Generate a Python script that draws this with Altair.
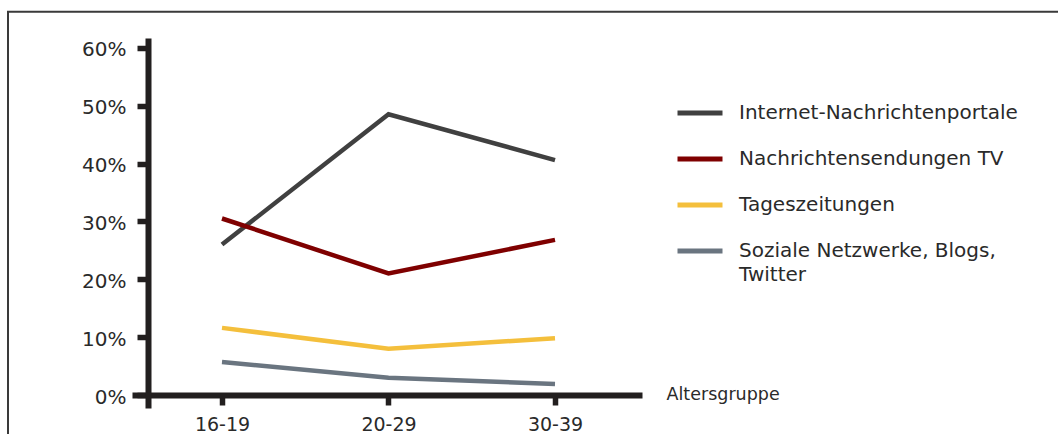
import json

import altair as alt
import pandas as pd

# Age groups on the x axis
age_groups = ["16-19", "20-29", "30-39"]

# Media types (legend order) and their line colours
series_names = [
    "Internet-Nachrichtenportale",
    "Nachrichtensendungen TV",
    "Tageszeitungen",
    "Soziale Netzwerke, Blogs, Twitter",
]
series_colors = ["#404040", "#7f0000", "#f4bf3c", "#6a7580"]

# Share of respondents per age group, in percent
internet_pct = [26.0, 48.5, 40.6]
tv_pct = [30.5, 21.0, 26.8]
zeitung_pct = [11.6, 8.0, 9.8]
sozial_pct = [5.7, 3.0, 1.9]

y_ticks = [0.0, 0.1, 0.2, 0.3, 0.4, 0.5, 0.6]

rows = []
for name, values in zip(series_names, [internet_pct, tv_pct, zeitung_pct, sozial_pct]):
    for i, (grp, v) in enumerate(zip(age_groups, values)):
        rows.append({"Medium": name, "Altersgruppe": grp, "pos": i, "Anteil": v / 100})
df = pd.DataFrame(rows)

# Layout (pixels)
PLOT_LEFT, PLOT_TOP = 132, 38
PLOT_W, PLOT_H = 510, 370
TOTAL_W, TOTAL_H = 1058, 434

TEXT = "#2a2a2a"
AXIS = "#221f1f"
FONT = "DejaVu Sans"

x_labels = json.dumps(age_groups)
legend_label = (
    "datum.label == 'Soziale Netzwerke, Blogs, Twitter' ? "
    "['Soziale Netzwerke, Blogs,', 'Twitter'] : datum.label"
)

lines = (
    alt.Chart(df)
    .mark_line(strokeWidth=4.5, strokeJoin="miter")
    .encode(
        x=alt.X(
            "pos:Q",
            scale=alt.Scale(domain=[-0.5405, 2.5225], nice=False, zero=False),
            axis=alt.Axis(
                values=[0, 1, 2],
                labelExpr=f"{x_labels}[datum.value]",
                offset=-13,
                grid=False,
                domainColor=AXIS,
                domainWidth=6,
                tickColor=AXIS,
                tickWidth=5.5,
                tickSize=10,
                labelColor=TEXT,
                labelFont=FONT,
                labelFontSize=19,
                labelPadding=10,
                labelBaseline="top",
                title="Altersgruppe",
                titleFont=FONT,
                titleFontSize=17.5,
                titleFontWeight="normal",
                titleColor=TEXT,
                titleAlign="left",
                titleBaseline="alphabetic",
                titleAnchor="start",
                titleX=534,
                titleY=4,
            ),
        ),
        y=alt.Y(
            "Anteil:Q",
            scale=alt.Scale(domain=[-0.02246, 0.6169], nice=False, zero=False),
            axis=alt.Axis(
                values=y_ticks,
                format=".0%",
                offset=-16,
                grid=False,
                domainColor=AXIS,
                domainWidth=6,
                tickColor=AXIS,
                tickWidth=5.5,
                tickSize=11,
                labelColor=TEXT,
                labelFont=FONT,
                labelFontSize=20,
                labelPadding=11,
                labelOffset=2,
                title=None,
            ),
        ),
        color=alt.Color(
            "Medium:N",
            sort=series_names,
            scale=alt.Scale(domain=series_names, range=series_colors),
            legend=alt.Legend(
                title=None,
                orient="none",
                legendX=543,
                legendY=50,
                symbolType="stroke",
                symbolSize=2025,
                symbolStrokeWidth=5,
                labelFont=FONT,
                labelFontSize=20,
                labelColor=TEXT,
                labelOffset=14,
                labelLimit=0,
                labelExpr=legend_label,
                rowPadding=11,
                padding=0,
            ),
        ),
        order="pos:Q",
    )
)

# Outer frame around the figure
frame = (
    alt.Chart(alt.Data(values=[{}]))
    .mark_rect(fill="white", fillOpacity=0, stroke="#3a3a3a", strokeWidth=2)
    .encode(
        x=alt.value(8 - PLOT_LEFT),
        y=alt.value(11.7 - PLOT_TOP),
        x2=alt.value(1200),
        y2=alt.value(600),
    )
)

chart = (
    alt.layer(frame, lines)
    .properties(
        width=PLOT_W,
        height=PLOT_H,
        autosize=alt.AutoSizeParams(type="none"),
        padding={
            "left": PLOT_LEFT,
            "top": PLOT_TOP,
            "right": TOTAL_W - PLOT_LEFT - PLOT_W,
            "bottom": TOTAL_H - PLOT_TOP - PLOT_H,
        },
        background="white",
    )
    .configure(style={"guide-label": {"lineHeight": 24}})
    .configure_view(stroke=None)
)

chart.save("out.html", embed_options={"renderer": "svg", "actions": False})
